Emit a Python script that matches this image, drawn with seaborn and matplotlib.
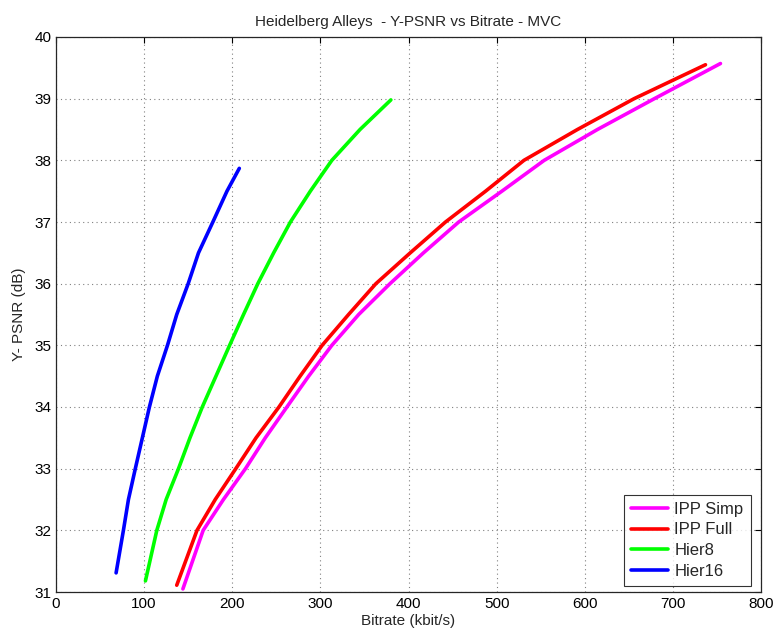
import matplotlib
matplotlib.use("Agg")
import matplotlib.pyplot as plt
import seaborn as sns
import pandas as pd

# Data
simp_x = [144, 167, 190, 215, 237.5, 262, 286.7, 313, 343.5, 379, 417, 457, 506, 554, 614.4, 679, 754]
simp_y = [31.05, 32, 32.5, 33, 33.5, 34, 34.5, 35, 35.5, 36, 36.5, 37, 37.5, 38, 38.5, 39, 39.57]
full_x = [137, 160, 180.7, 204, 227, 253, 277, 302, 332, 363, 402, 442, 487.5, 531, 591.7, 656, 737]
full_y = [31.11, 32, 32.5, 33, 33.5, 34, 34.5, 35, 35.5, 36, 36.5, 37, 37.5, 38, 38.5, 39, 39.55]
h8_x = [101.5, 114.4, 125, 139, 152, 166, 181.5, 197, 212.8, 229, 247, 266, 288.6, 313, 345, 380]
h8_y = [31.18, 32, 32.5, 33, 33.5, 34, 34.5, 35, 35.5, 36, 36.5, 37, 37.5, 38, 38.5, 38.98]
h16_x = [68.2, 76.5, 82.2, 90, 98, 106, 115, 126.5, 137, 150, 161.7, 178, 194, 208]
h16_y = [31.31, 32, 32.5, 33, 33.5, 34, 34.5, 35, 35.5, 36, 36.5, 37, 37.5, 37.87]

series = ["IPP Simp", "IPP Full", "Hier8", "Hier16"]
colors = ["#ff00ff", "#ff0000", "#00ff00", "#0000ff"]
xticks = [0, 100, 200, 300, 400, 500, 600, 700, 800]
yticks = [31, 32, 33, 34, 35, 36, 37, 38, 39, 40]

rows = []
for name, xs, ys in zip(series, [simp_x, full_x, h8_x, h16_x], [simp_y, full_y, h8_y, h16_y]):
    for i, (a, b) in enumerate(zip(xs, ys)):
        rows.append({"series": name, "order": i, "bitrate": a, "psnr": b})
df = pd.DataFrame(rows)

sns.set_style("white")
plt.rcParams["font.family"] = ["Liberation Sans", "DejaVu Sans"]

fig = plt.figure(figsize=(7.76, 6.4), dpi=100)
ax = fig.add_axes([56 / 776, 48 / 640, (761 - 56) / 776, (592 - 37) / 640])

sns.lineplot(data=df, x="bitrate", y="psnr", hue="series", hue_order=series,
             palette=colors, sort=False, estimator=None, units="series",
             linewidth=2.6, ax=ax, legend=True)
for ln in ax.get_lines():
    ln.set_solid_joinstyle("round")

ax.set_xlim(0, 800)
ax.set_ylim(31, 40)
ax.set_xticks(xticks)
ax.set_yticks(yticks)
ax.tick_params(direction="in", length=4, labelsize=11, colors="#000000",
               top=True, right=True, width=0.8)
for t in ax.get_xticklabels() + ax.get_yticklabels():
    t.set_color("black")
ax.grid(True, linestyle=(0, (1, 3)), color="#808080", linewidth=0.8)
for s in ax.spines.values():
    s.set_visible(True)
    s.set_color("#262626")
    s.set_linewidth(0.9)

ax.set_xlabel("Bitrate (kbit/s)", fontsize=11, labelpad=2)
ax.set_ylabel("Y- PSNR (dB)", fontsize=11, labelpad=6)
ax.set_title("Heidelberg Alleys  - Y-PSNR vs Bitrate - MVC", fontsize=11, pad=8)

leg = ax.legend(loc="lower right", fontsize=12, frameon=True, fancybox=False,
                edgecolor="#000000", handlelength=2.2, borderpad=0.45,
                labelspacing=0.33, handletextpad=0.4, borderaxespad=0,
                bbox_to_anchor=(695 / 705, 6 / 555))
leg.get_frame().set_linewidth(0.8)
for line in leg.get_lines():
    line.set_linewidth(2.6)

fig.savefig("out.png", dpi=100)
